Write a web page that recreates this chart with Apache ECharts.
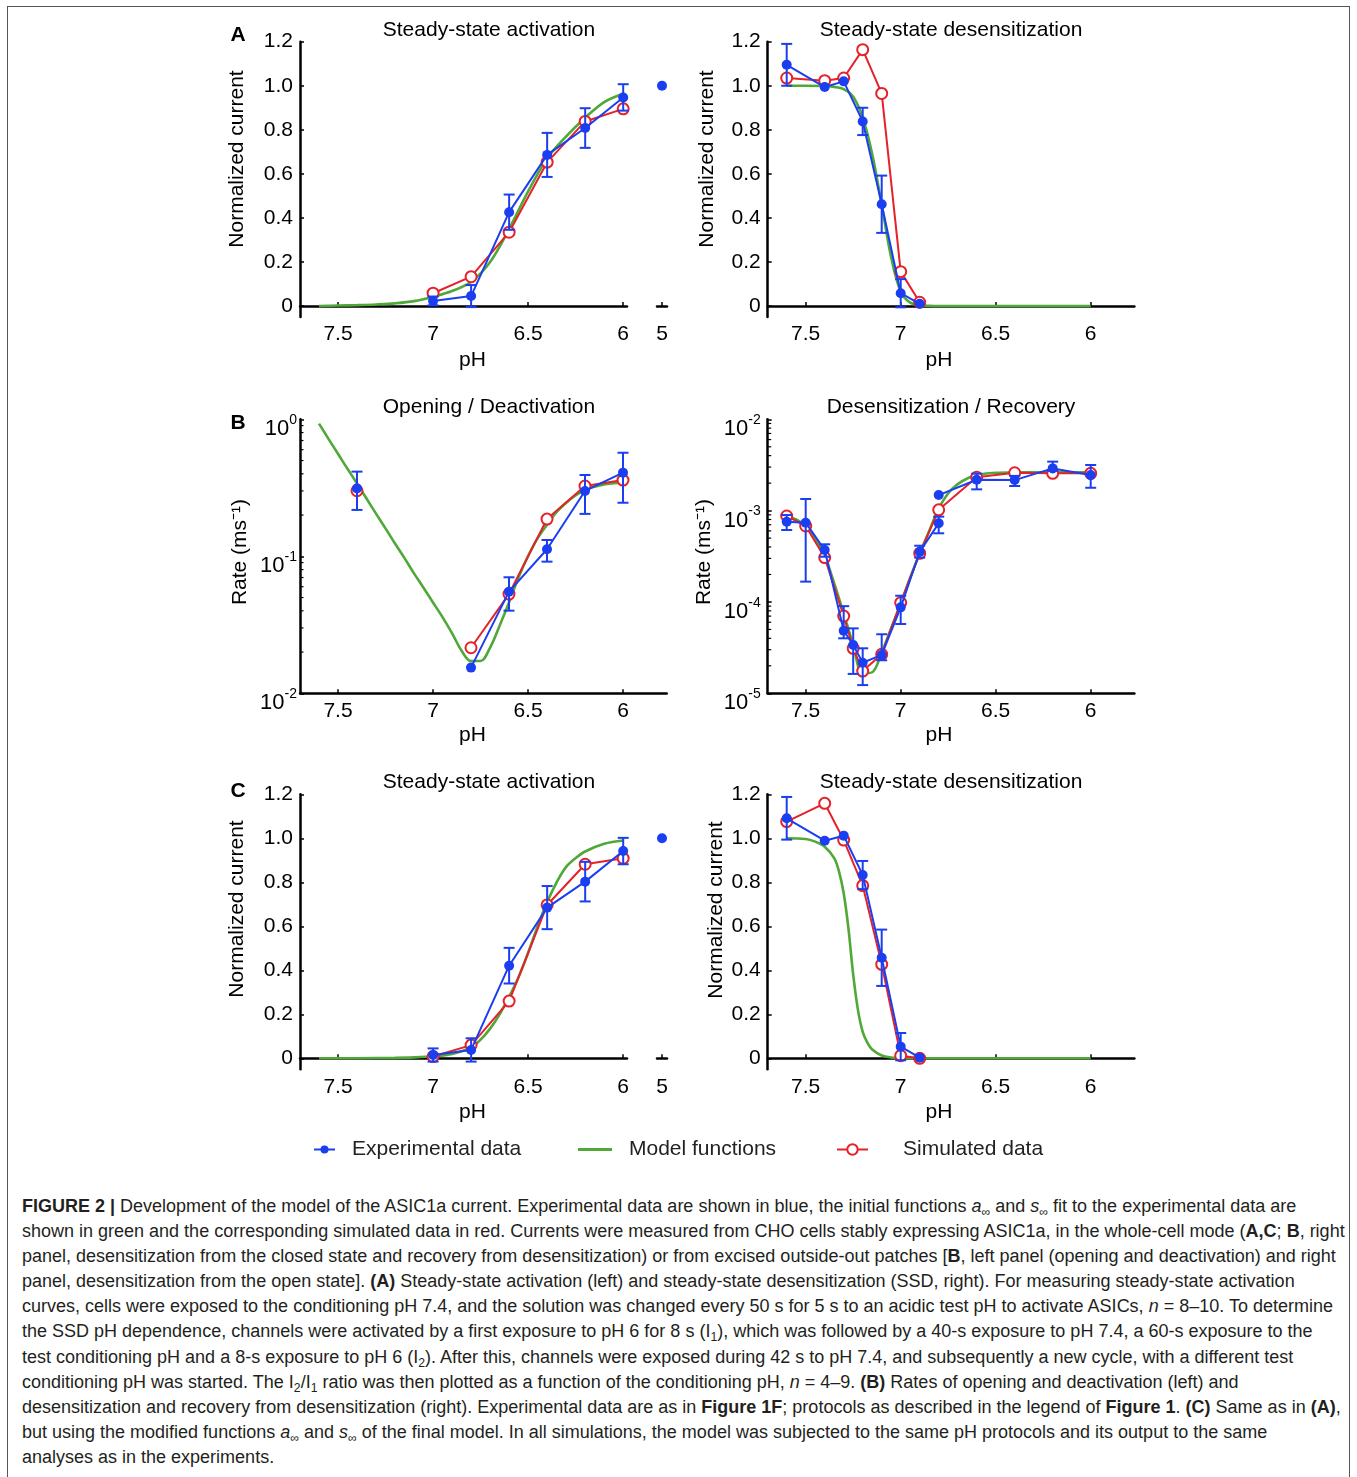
<!DOCTYPE html>
<html>
<head>
<meta charset="utf-8">
<title>Figure 2 - ASIC1a model</title>
<script src="https://cdn.jsdelivr.net/npm/echarts@6.0.0/dist/echarts.min.js"></script>
<style>
  html, body { margin: 0; padding: 0; background: #fff; }
  #page { position: relative; width: 1357px; height: 1477px; overflow: hidden; }
  #frame { position: absolute; left: 7px; top: 6px; width: 1343px; height: 1500px; border: 1.5px solid #555; box-sizing: border-box; }
  #chart { position: absolute; left: 0; top: 0; width: 1357px; height: 1180px; }
  #caption {
    position: absolute; left: 22px; top: 1194px;
    font-family: "Liberation Sans Narrow", "Liberation Sans", Arial, sans-serif;
    font-size: 18px; line-height: 25.1px; color: #231f20; white-space: nowrap;
  }
  #caption sub { font-size: 0.68em; vertical-align: -0.3em; line-height: 0; }
</style>
</head>
<body>
<div id="page">
  <div id="frame"></div>
  <div id="chart"></div>
  <div id="caption">
    <b>FIGURE 2 |</b> Development of the model of the ASIC1a current. Experimental data are shown in blue, the initial functions <i>a</i><sub>∞</sub> and <i>s</i><sub>∞</sub> fit to the experimental data are<br>
    shown in green and the corresponding simulated data in red. Currents were measured from CHO cells stably expressing ASIC1a, in the whole-cell mode (<b>A,C</b>; <b>B</b>, right<br>
    panel, desensitization from the closed state and recovery from desensitization) or from excised outside-out patches [<b>B</b>, left panel (opening and deactivation) and right<br>
    panel, desensitization from the open state]. <b>(A)</b> Steady-state activation (left) and steady-state desensitization (SSD, right). For measuring steady-state activation<br>
    curves, cells were exposed to the conditioning pH 7.4, and the solution was changed every 50 s for 5 s to an acidic test pH to activate ASICs, <i>n</i> = 8–10. To determine<br>
    the SSD pH dependence, channels were activated by a first exposure to pH 6 for 8 s (I<sub>1</sub>), which was followed by a 40-s exposure to pH 7.4, a 60-s exposure to the<br>
    test conditioning pH and a 8-s exposure to pH 6 (I<sub>2</sub>). After this, channels were exposed during 42 s to pH 7.4, and subsequently a new cycle, with a different test<br>
    conditioning pH was started. The I<sub>2</sub>/I<sub>1</sub> ratio was then plotted as a function of the conditioning pH, <i>n</i> = 4–9. <b>(B)</b> Rates of opening and deactivation (left) and<br>
    desensitization and recovery from desensitization (right). Experimental data are as in <b>Figure 1F</b>; protocols as described in the legend of <b>Figure 1</b>. <b>(C)</b> Same as in <b>(A)</b>,<br>
    but using the modified functions <i>a</i><sub>∞</sub> and <i>s</i><sub>∞</sub> of the final model. In all simulations, the model was subjected to the same pH protocols and its output to the same<br>
    analyses as in the experiments.
  </div>
</div>
<script>
// ---------------- data ----------------
// pH of the test solutions
const phAct = [7.0, 6.8, 6.6, 6.4, 6.2, 6.0];
const phSsd = [7.6, 7.4, 7.3, 7.2, 7.1, 7.0, 6.9];
const phStub = [5];
const xTicks = [7.5, 7, 6.5, 6];
const yTicksLin = [0, 0.2, 0.4, 0.6, 0.8, 1.0, 1.2];

// A, left: steady-state activation
const actA_exp = [0.023, 0.045, 0.426, 0.686, 0.808, 0.947];
const actA_err = [0.02, 0.05, 0.08, 0.10, 0.09, 0.06];
const actA_sim = [0.058, 0.133, 0.335, 0.653, 0.838, 0.895];
const actA_stub = [1.0];
const actA_fitPh = [7.6, 7.5, 7.4, 7.3, 7.2, 7.1, 7.0, 6.9, 6.8, 6.7, 6.6, 6.5, 6.4, 6.3, 6.2, 6.1, 6.0];
const actA_fit = [0.0, 0.002, 0.004, 0.007, 0.012, 0.022, 0.042, 0.068, 0.11, 0.2, 0.35, 0.52, 0.67, 0.77, 0.855, 0.926, 0.964];

// A, right: steady-state desensitization
const ssdA_exp = [1.095, 0.994, 1.02, 0.838, 0.462, 0.058, 0.01];
const ssdA_err = [0.095, 0, 0, 0.062, 0.13, 0.064, 0];
const ssdA_sim = [1.035, 1.023, 1.035, 1.164, 0.965, 0.156, 0.017];
const ssdA_fitPh = [7.6, 7.5, 7.4, 7.35, 7.3, 7.25, 7.2, 7.15, 7.1, 7.05, 7.0, 6.95, 6.9, 6.85, 6.8, 6.5, 6.0];
const ssdA_fit = [1.0, 1.0, 0.999, 0.995, 0.985, 0.95, 0.855, 0.69, 0.46, 0.22, 0.065, 0.015, 0.004, 0.001, 0, 0, 0];

// B, left: deactivation (pH 7.4) and opening (pH 6.8-6.0), ms-1
const phDeact = [7.4];
const deact_exp = [0.313];
const deact_lo = [0.218];
const deact_hi = [0.415];
const deact_sim = [0.301];
const phOpen = [6.8, 6.6, 6.4, 6.2, 6.0];
const open_exp = [0.0154, 0.0552, 0.1125, 0.30, 0.408];
const open_lo = [null, 0.0401, 0.0914, 0.204, 0.246];
const open_hi = [null, 0.0703, 0.1315, 0.392, 0.57];
const open_sim = [0.0215, 0.053, 0.187, 0.326, 0.36];
const open_fitPh = [7.6, 7.55, 7.5, 7.45, 7.4, 7.35, 7.3, 7.25, 7.2, 7.15, 7.1, 7.05, 7.0, 6.95, 6.9, 6.85, 6.8, 6.75, 6.7, 6.65, 6.6, 6.55, 6.5, 6.45, 6.4, 6.35, 6.3, 6.25, 6.2, 6.15, 6.1, 6.05, 6.0];
const open_fit = [0.93, 0.72, 0.56, 0.435, 0.34, 0.264, 0.205, 0.16, 0.124, 0.097, 0.075, 0.059, 0.046, 0.036, 0.0275, 0.0205, 0.0172, 0.0172, 0.0215, 0.031, 0.046, 0.07, 0.1, 0.135, 0.17, 0.21, 0.245, 0.278, 0.305, 0.322, 0.335, 0.341, 0.345];

// B, right: desensitization / recovery (ms-1)
const phDes = [7.6, 7.5, 7.4, 7.3, 7.25, 7.2, 7.1, 7.0, 6.9, 6.8];
const des_exp = [7.57e-4, 7.38e-4, 3.71e-4, 4.84e-5, 3.38e-5, 2.16e-5, 2.63e-5, 8.73e-5, 3.55e-4, 7.26e-4];
const des_lo = [6.14e-4, 1.67e-4, 3.13e-4, 4.0e-5, 1.63e-5, 1.23e-5, 2.3e-5, 5.74e-5, 3.06e-4, 5.65e-4];
const des_hi = [8.95e-4, 1.34e-3, 4.28e-4, 9.0e-5, 5.14e-5, 3.11e-5, 4.43e-5, 1.17e-4, 4.13e-4, 8.59e-4];
const phRec = [6.8, 6.6, 6.4, 6.2, 6.0];
const rec_exp = [1.48e-3, 2.18e-3, 2.16e-3, 2.9e-3, 2.45e-3];
const rec_lo = [null, 1.71e-3, 1.86e-3, 2.73e-3, 1.78e-3];
const rec_hi = [null, 2.54e-3, 2.4e-3, 3.44e-3, 3.16e-3];
const phDesSim = [7.6, 7.5, 7.4, 7.3, 7.25, 7.2, 7.1, 7.0, 6.9, 6.8, 6.6, 6.4, 6.2, 6.0];
const des_sim = [8.73e-4, 6.79e-4, 3.06e-4, 7.01e-5, 3.11e-5, 1.75e-5, 2.67e-5, 9.82e-5, 3.41e-4, 1.02e-3, 2.32e-3, 2.6e-3, 2.56e-3, 2.56e-3];
const des_fitPh = [7.6, 7.55, 7.5, 7.45, 7.4, 7.35, 7.3, 7.25, 7.2, 7.15, 7.1, 7.05, 7.0, 6.95, 6.9, 6.85, 6.8, 6.75, 6.7, 6.65, 6.6, 6.5, 6.4, 6.3, 6.2, 6.1, 6.0];
const des_fit = [8.7e-4, 8.0e-4, 6.8e-4, 5.0e-4, 3.2e-4, 1.6e-4, 7.5e-5, 3.4e-5, 1.65e-5, 1.7e-5, 2.8e-5, 5.2e-5, 9.6e-5, 1.85e-4, 3.4e-4, 6.0e-4, 1.05e-3, 1.55e-3, 1.95e-3, 2.25e-3, 2.45e-3, 2.6e-3, 2.62e-3, 2.63e-3, 2.63e-3, 2.63e-3, 2.63e-3];

// C, left: steady-state activation, final model
const actC_exp = [0.015, 0.038, 0.421, 0.685, 0.803, 0.942];
const actC_err = [0.03, 0.053, 0.081, 0.098, 0.09, 0.06];
const actC_sim = [0.008, 0.06, 0.26, 0.697, 0.882, 0.909];
const actC_stub = [1.0];
const actC_fitPh = [7.6, 7.4, 7.2, 7.1, 7.0, 6.9, 6.8, 6.75, 6.7, 6.65, 6.6, 6.55, 6.5, 6.45, 6.4, 6.35, 6.3, 6.25, 6.2, 6.1, 6.0];
const actC_fit = [0.0, 0.0005, 0.002, 0.004, 0.009, 0.02, 0.05, 0.085, 0.135, 0.2, 0.28, 0.37, 0.48, 0.6, 0.71, 0.8, 0.87, 0.91, 0.94, 0.975, 0.99];

// C, right: steady-state desensitization, final model
const ssdC_exp = [1.091, 0.989, 1.012, 0.833, 0.457, 0.053, 0.003];
const ssdC_err = [0.097, 0, 0, 0.064, 0.128, 0.062, 0];
const ssdC_sim = [1.076, 1.159, 0.992, 0.785, 0.427, 0.012, 0.0];
const ssdC_fitPh = [7.6, 7.5, 7.45, 7.4, 7.35, 7.325, 7.3, 7.275, 7.25, 7.225, 7.2, 7.175, 7.15, 7.1, 7.05, 7.0, 6.9, 6.5, 6.0];
const ssdC_fit = [1.0, 0.997, 0.985, 0.962, 0.91, 0.85, 0.75, 0.59, 0.38, 0.22, 0.12, 0.07, 0.04, 0.013, 0.004, 0.001, 0, 0, 0];

// log-axis minor tick multipliers
const minorMult = [2, 3, 4, 5, 6, 7, 8, 9];

// ---------------- styling ----------------
const BLUE = '#1b3ef0', RED = '#e52129', GREEN = '#4fa838', INK = '#000';
const FONT = '"Liberation Sans", Arial, sans-serif';
const PH_MAX = 7.7;

function pairs(xs, ys) { return xs.map((x, i) => [x, ys[i]]); }
function errSym(xs, ys, es) {
  const out = [];
  xs.forEach((x, i) => { if (es[i]) out.push([x, ys[i] - es[i], ys[i] + es[i]]); });
  return out;
}
function errLoHi(xs, lo, hi) {
  const out = [];
  xs.forEach((x, i) => { if (lo[i] != null) out.push([x, lo[i], hi[i]]); });
  return out;
}

function errorBarItem(params, api) {
  const x = api.value(0);
  const a = api.coord([x, api.value(1)]);
  const b = api.coord([x, api.value(2)]);
  const cap = 5.5;
  const st = { stroke: BLUE, lineWidth: 2 };
  return {
    type: 'group',
    children: [
      { type: 'line', shape: { x1: a[0], y1: a[1], x2: b[0], y2: b[1] }, style: st },
      { type: 'line', shape: { x1: a[0] - cap, y1: a[1], x2: a[0] + cap, y2: a[1] }, style: st },
      { type: 'line', shape: { x1: b[0] - cap, y1: b[1], x2: b[0] + cap, y2: b[1] }, style: st }
    ]
  };
}
function minorTickItem(params, api) {
  const p = api.coord([PH_MAX, api.value(1)]);
  return { type: 'line', shape: { x1: p[0], y1: p[1], x2: p[0] + 3.5, y2: p[1] }, style: { stroke: INK, lineWidth: 1.2 } };
}

// layout of the 8 grids (6 panels + 2 broken-axis stubs for pH 5)
const L = 300, R = 767.7, W = 366.7;
const grids = [
  { left: L, top: 41.7, width: 327, height: 275.3 },     // 0 A left
  { left: 657, top: 41.7, width: 10, height: 275.3 },    // 1 A stub
  { left: R, top: 41.7, width: W, height: 275.3 },       // 2 A right
  { left: L, top: 419.3, width: W, height: 274 },        // 3 B left
  { left: R, top: 419.3, width: W, height: 274 },        // 4 B right
  { left: L, top: 794.3, width: 327, height: 275 },      // 5 C left
  { left: 657, top: 794.3, width: 10, height: 275 },     // 6 C stub
  { left: R, top: 794.3, width: W, height: 275 }         // 7 C right
].map(g => Object.assign({ outerBoundsMode: 'none', containLabel: false }, g));

const axisLine = { lineStyle: { color: INK, width: 2.5 } };
const tick = { inside: true, length: 4, lineStyle: { color: INK, width: 1.5 } };
const lbl = { fontSize: 21, color: INK, fontFamily: FONT };

function phAxis(gi, min) {
  return {
    type: 'value', gridIndex: gi, inverse: true, min: min, max: PH_MAX,
    axisLine: axisLine, splitLine: { show: false },
    axisTick: Object.assign({ customValues: xTicks }, tick),
    axisLabel: Object.assign({ customValues: xTicks, margin: 7, formatter: v => String(v) }, lbl)
  };
}
function stubAxis(gi) {
  return {
    type: 'value', gridIndex: gi, min: 4.95, max: 5.05,
    axisLine: axisLine, splitLine: { show: false },
    axisTick: Object.assign({ customValues: phStub }, tick),
    axisLabel: Object.assign({ customValues: phStub, margin: 7, formatter: v => String(v) }, lbl)
  };
}
function linY(gi, show) {
  return {
    type: 'value', gridIndex: gi, min: -0.05, max: 1.2, show: show !== false,
    axisLine: axisLine, splitLine: { show: false },
    axisTick: Object.assign({ customValues: yTicksLin }, tick),
    axisLabel: Object.assign({ customValues: yTicksLin, margin: 7, formatter: v => v === 0 ? '0' : v.toFixed(1) }, lbl)
  };
}
function logY(gi, min, max, margin) {
  return {
    type: 'log', logBase: 10, gridIndex: gi, min: min, max: max,
    axisLine: axisLine, splitLine: { show: false }, axisTick: tick,
    axisLabel: {
      margin: margin, color: INK, fontFamily: FONT, padding: [15, 0, 0, 0],
      formatter: v => '{b|10}{s|' + Math.round(Math.log10(v)) + '}',
      rich: {
        b: { fontSize: 22, lineHeight: 22, verticalAlign: 'bottom', fontFamily: FONT, color: INK },
        s: { fontSize: 14, lineHeight: 27, verticalAlign: 'top', fontFamily: FONT, color: INK }
      }
    }
  };
}

function greenLine(gi, xs, ys) {
  return { name: 'Model functions', type: 'line', xAxisIndex: gi, yAxisIndex: gi, data: pairs(xs, ys),
    showSymbol: false, symbol: 'none', smooth: 0.35, z: 1, clip: false, silent: true,
    lineStyle: { color: GREEN, width: 2.6 }, itemStyle: { color: GREEN } };
}
function redLine(gi, xs, ys) {
  return { name: 'Simulated data', type: 'line', xAxisIndex: gi, yAxisIndex: gi, data: pairs(xs, ys),
    symbol: 'emptyCircle', symbolSize: 11, z: 2, clip: false, silent: true,
    lineStyle: { color: RED, width: 2 }, itemStyle: { color: RED, borderColor: RED, borderWidth: 2 } };
}
function blueLine(gi, xs, ys) {
  return { name: 'Experimental data', type: 'line', xAxisIndex: gi, yAxisIndex: gi, data: pairs(xs, ys),
    symbol: 'circle', symbolSize: 10, z: 4, clip: false, silent: true,
    lineStyle: { color: BLUE, width: 2 }, itemStyle: { color: BLUE } };
}
function errBars(gi, data) {
  return { name: 'error', type: 'custom', xAxisIndex: gi, yAxisIndex: gi, data: data,
    encode: { x: 0, y: [1, 2] }, renderItem: errorBarItem, z: 3, silent: true, clip: false };
}
function minorTicks(gi, decades) {
  const vals = [];
  decades.forEach(d => minorMult.forEach(m => vals.push([PH_MAX, m * Math.pow(10, d)])));
  return { name: 'minor', type: 'custom', xAxisIndex: gi, yAxisIndex: gi, data: vals,
    encode: { x: 0, y: 1 }, renderItem: minorTickItem, z: 5, silent: true, clip: false };
}

// ---------------- texts drawn with graphic ----------------
function txt(text, x, y, font, rot) {
  return { type: 'text', x: x, y: y, rotation: rot || 0, silent: true,
    style: { text: text, font: font, fill: INK, align: 'center', verticalAlign: 'middle',
             textAlign: 'center', textVerticalAlign: 'middle' } };
}
const F = '21px "Liberation Sans", Arial, sans-serif';
const FB = 'bold 21px "Liberation Sans", Arial, sans-serif';
const graphics = [
  txt('Steady-state activation', 489, 30, F),
  txt('Steady-state desensitization', 951, 30, F),
  txt('Opening / Deactivation', 489, 407, F),
  txt('Desensitization / Recovery', 951, 407, F),
  txt('Steady-state activation', 489, 782, F),
  txt('Steady-state desensitization', 951, 782, F),
  txt('A', 238, 35, FB), txt('B', 238, 423, FB), txt('C', 238, 791, FB),
  txt('Normalized current', 237.5, 159, F, Math.PI / 2),
  txt('Normalized current', 707.5, 159, F, Math.PI / 2),
  txt('Rate (ms⁻¹)', 240, 552, F, Math.PI / 2),
  txt('Rate (ms⁻¹)', 704, 552, F, Math.PI / 2),
  txt('Normalized current', 237.5, 909, F, Math.PI / 2),
  txt('Normalized current', 716.5, 910, F, Math.PI / 2),
  txt('pH', 472.5, 360, F), txt('pH', 939, 360, F),
  txt('pH', 472.5, 735, F), txt('pH', 939, 735, F),
  txt('pH', 472.5, 1112, F), txt('pH', 939, 1112, F)
];

const legendText = { fontSize: 21, color: '#222', fontFamily: FONT };
const option = {
  animation: false,
  backgroundColor: 'transparent',
  grid: grids,
  xAxis: [phAxis(0, 5.98), stubAxis(1), phAxis(2, 5.77), phAxis(3, 5.77), phAxis(4, 5.77),
          phAxis(5, 5.98), stubAxis(6), phAxis(7, 5.77)],
  yAxis: [linY(0), linY(1, false), linY(2), logY(3, 0.01, 1, 3), logY(4, 1e-5, 1e-2, 7),
          linY(5), linY(6, false), linY(7)],
  legend: [
    { data: ['Experimental data'], left: 313, top: 1139, padding: 0, itemWidth: 21, itemHeight: 10,
      selectedMode: false, textStyle: Object.assign({ padding: [0, 0, 0, 12] }, legendText) },
    { data: [{ name: 'Model functions', icon: 'rect' }], left: 578, top: 1139, padding: 0, itemWidth: 34, itemHeight: 3,
      selectedMode: false, textStyle: Object.assign({ padding: [0, 0, 0, 12] }, legendText) },
    { data: ['Simulated data'], left: 836, top: 1139, padding: 0, itemWidth: 31, itemHeight: 13,
      selectedMode: false, textStyle: Object.assign({ padding: [0, 0, 0, 30] }, legendText) }
  ],
  graphic: graphics,
  series: [
    // A left
    greenLine(0, actA_fitPh, actA_fit), redLine(0, phAct, actA_sim),
    errBars(0, errSym(phAct, actA_exp, actA_err)), blueLine(0, phAct, actA_exp),
    blueLine(1, phStub, actA_stub),
    // A right
    greenLine(2, ssdA_fitPh, ssdA_fit), redLine(2, phSsd, ssdA_sim),
    errBars(2, errSym(phSsd, ssdA_exp, ssdA_err)), blueLine(2, phSsd, ssdA_exp),
    // B left: deactivation point and opening curve are separate
    greenLine(3, open_fitPh, open_fit),
    redLine(3, phDeact, deact_sim), redLine(3, phOpen, open_sim),
    errBars(3, errLoHi(phDeact, deact_lo, deact_hi)), errBars(3, errLoHi(phOpen, open_lo, open_hi)),
    blueLine(3, phDeact, deact_exp), blueLine(3, phOpen, open_exp),
    minorTicks(3, [-2, -1]),
    // B right
    greenLine(4, des_fitPh, des_fit), redLine(4, phDesSim, des_sim),
    errBars(4, errLoHi(phDes, des_lo, des_hi)), errBars(4, errLoHi(phRec, rec_lo, rec_hi)),
    blueLine(4, phDes, des_exp), blueLine(4, phRec, rec_exp),
    minorTicks(4, [-5, -4, -3]),
    // C left
    greenLine(5, actC_fitPh, actC_fit), redLine(5, phAct, actC_sim),
    errBars(5, errSym(phAct, actC_exp, actC_err)), blueLine(5, phAct, actC_exp),
    blueLine(6, phStub, actC_stub),
    // C right
    greenLine(7, ssdC_fitPh, ssdC_fit), redLine(7, phSsd, ssdC_sim),
    errBars(7, errSym(phSsd, ssdC_exp, ssdC_err)), blueLine(7, phSsd, ssdC_exp)
  ]
};

const myChart = echarts.init(document.getElementById('chart'), null, { renderer: 'canvas' });
myChart.setOption(option);
window.onresize = myChart.resize;
</script>
</body>
</html>
